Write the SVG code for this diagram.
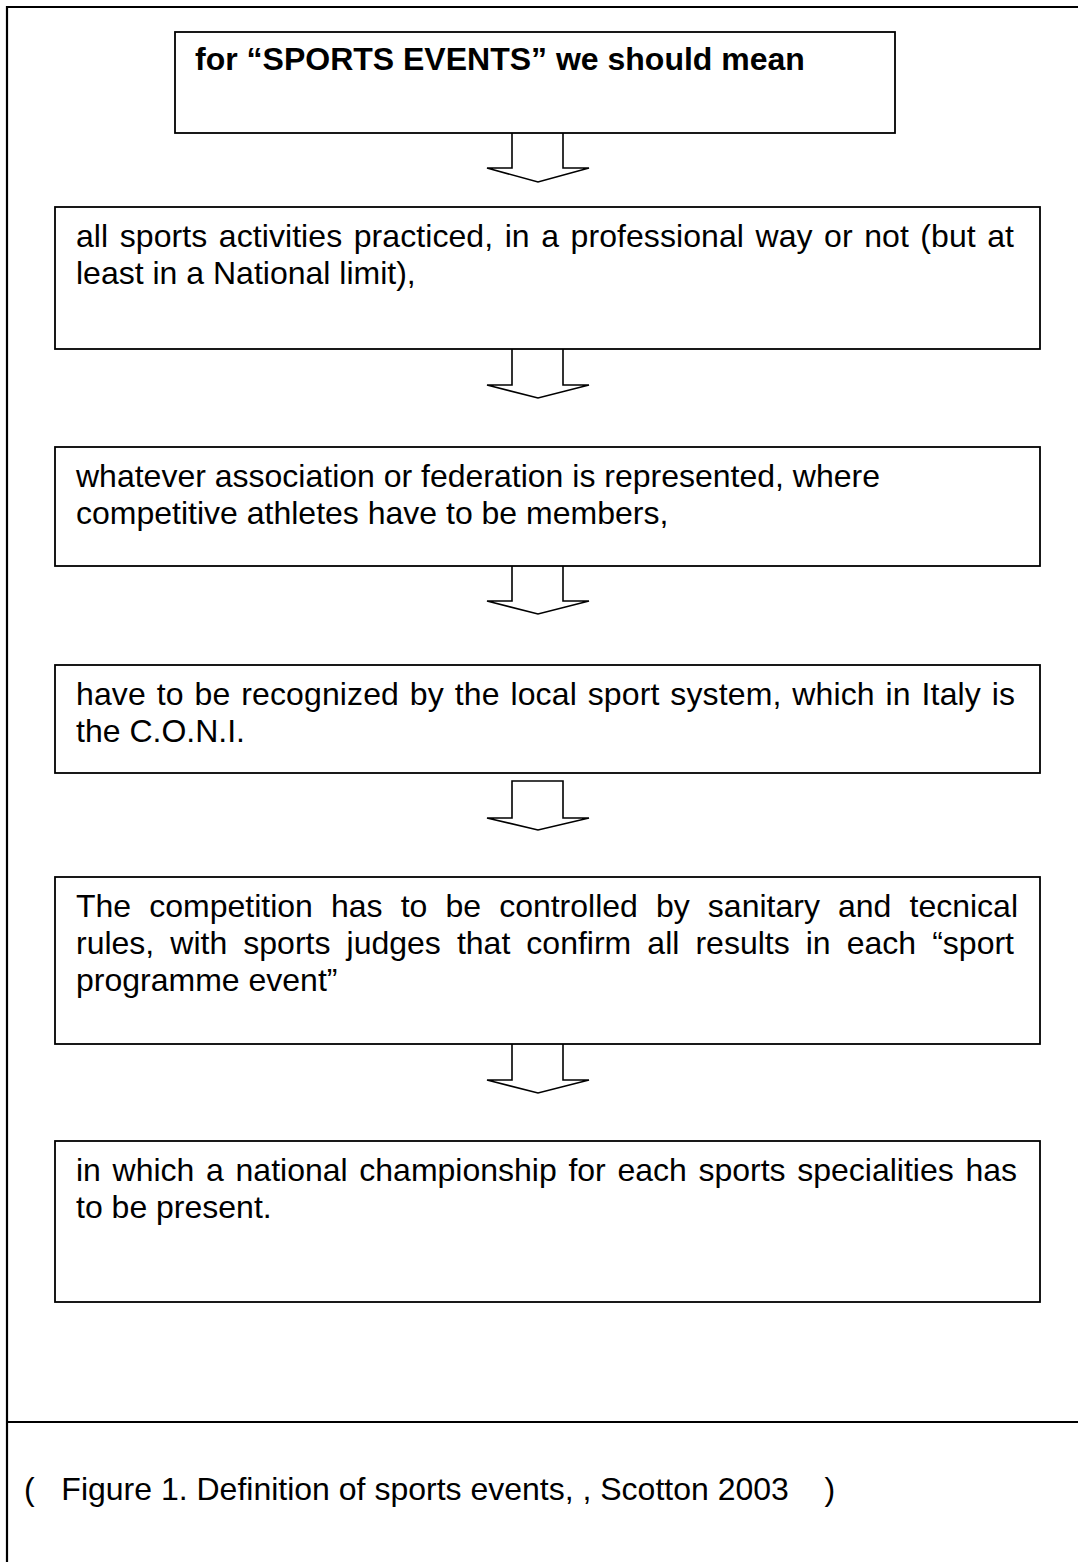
<svg xmlns="http://www.w3.org/2000/svg" width="1078" height="1562" viewBox="0 0 1078 1562">
<style>
.box{fill:#fff;stroke:#000;stroke-width:1.8}
.frame{fill:none;stroke:#000;stroke-width:2.2}
.arrow{fill:#fff;stroke:#000;stroke-width:1.6;stroke-linejoin:miter}
.t{font-family:"Liberation Sans",Arial,sans-serif;font-size:32px;fill:#000}
.b{font-family:"Liberation Sans",Arial,sans-serif;font-size:32px;font-weight:bold;fill:#000}
</style>
<rect width="1078" height="1562" fill="#fff"/>
<g id="frame">
<polyline class="frame" points="1082,7 7,7 7,1566"/>
<line class="frame" x1="7" y1="1422" x2="1082" y2="1422"/>
</g>
<g id="connectors">
<path class="arrow" d="M512,133 V168 H487 L538,182 L589,168 H563 V133"/>
<path class="arrow" d="M512,349 V385 H487 L538,398 L589,385 H563 V349"/>
<path class="arrow" d="M512,566 V601 H487 L538,614 L589,601 H563 V566"/>
<path class="arrow" d="M512,781 H563 V818 H589 L538,830 L487,818 H512 Z"/>
<path class="arrow" d="M512,1044 V1080 H487 L538,1093 L589,1080 H563 V1044"/>
</g>
<g id="n1">
<rect class="box" x="175" y="32" width="720" height="101"/>
<text class="b" x="195" y="70">for “SPORTS EVENTS” we should mean</text>
</g>
<g id="n2">
<rect class="box" x="55" y="207" width="985" height="142"/>
<text class="t" x="76" y="247" word-spacing="2.5" textLength="938" lengthAdjust="spacing">all sports activities practiced, in a professional way or not (but at</text>
<text class="t" x="76" y="284">least in a National limit),</text>
</g>
<g id="n3">
<rect class="box" x="55" y="447" width="985" height="119"/>
<text class="t" x="76" y="487">whatever association or federation is represented, where</text>
<text class="t" x="76" y="524">competitive athletes have to be members,</text>
</g>
<g id="n4">
<rect class="box" x="55" y="665" width="985" height="108"/>
<text class="t" x="76" y="705" word-spacing="1.8" textLength="939" lengthAdjust="spacing">have to be recognized by the local sport system, which in Italy is</text>
<text class="t" x="76" y="742">the C.O.N.I.</text>
</g>
<g id="n5">
<rect class="box" x="55" y="877" width="985" height="167"/>
<text class="t" x="76" y="917" word-spacing="9.2" textLength="942" lengthAdjust="spacing">The competition has to be controlled by sanitary and tecnical</text>
<text class="t" x="76" y="954" word-spacing="7.2" textLength="938" lengthAdjust="spacing">rules, with sports judges that confirm all results in each “sport</text>
<text class="t" x="76" y="991">programme event”</text>
</g>
<g id="n6">
<rect class="box" x="55" y="1141" width="985" height="161"/>
<text class="t" x="76" y="1181" word-spacing="2.8" textLength="941" lengthAdjust="spacing">in which a national championship for each sports specialities has</text>
<text class="t" x="76" y="1218">to be present.</text>
</g>
<g id="caption">
<text class="t" x="24" y="1500" xml:space="preserve">(   Figure 1. Definition of sports events, , Scotton 2003    )</text>
</g>
</svg>
